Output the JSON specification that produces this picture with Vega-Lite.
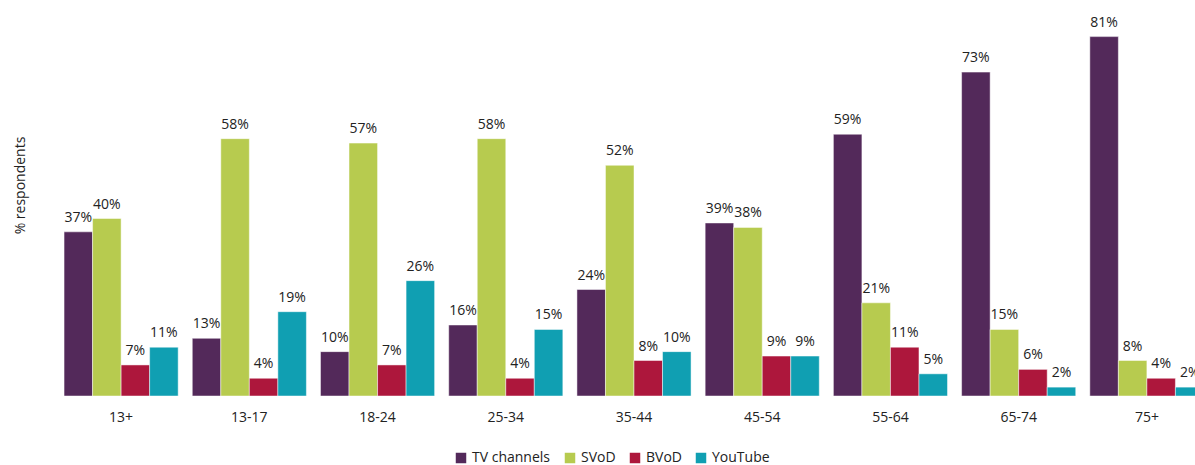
{
  "$schema": "https://vega.github.io/schema/vega-lite/v6.json",
  "autosize": "none",
  "width": 1154,
  "height": 386,
  "padding": {"left": 57, "top": 10, "right": 0, "bottom": 69},
  "background": "white",
  "config": {
    "view": {"stroke": null},
    "font": "Open Sans",
    "text": {"font": "Open Sans"}
  },
  "data": {
    "values": [
      {"age": "13+", "series": "TV channels", "value": 37},
      {"age": "13+", "series": "SVoD", "value": 40},
      {"age": "13+", "series": "BVoD", "value": 7},
      {"age": "13+", "series": "YouTube", "value": 11},
      {"age": "13-17", "series": "TV channels", "value": 13},
      {"age": "13-17", "series": "SVoD", "value": 58},
      {"age": "13-17", "series": "BVoD", "value": 4},
      {"age": "13-17", "series": "YouTube", "value": 19},
      {"age": "18-24", "series": "TV channels", "value": 10},
      {"age": "18-24", "series": "SVoD", "value": 57},
      {"age": "18-24", "series": "BVoD", "value": 7},
      {"age": "18-24", "series": "YouTube", "value": 26},
      {"age": "25-34", "series": "TV channels", "value": 16},
      {"age": "25-34", "series": "SVoD", "value": 58},
      {"age": "25-34", "series": "BVoD", "value": 4},
      {"age": "25-34", "series": "YouTube", "value": 15},
      {"age": "35-44", "series": "TV channels", "value": 24},
      {"age": "35-44", "series": "SVoD", "value": 52},
      {"age": "35-44", "series": "BVoD", "value": 8},
      {"age": "35-44", "series": "YouTube", "value": 10},
      {"age": "45-54", "series": "TV channels", "value": 39},
      {"age": "45-54", "series": "SVoD", "value": 38},
      {"age": "45-54", "series": "BVoD", "value": 9},
      {"age": "45-54", "series": "YouTube", "value": 9},
      {"age": "55-64", "series": "TV channels", "value": 59},
      {"age": "55-64", "series": "SVoD", "value": 21},
      {"age": "55-64", "series": "BVoD", "value": 11},
      {"age": "55-64", "series": "YouTube", "value": 5},
      {"age": "65-74", "series": "TV channels", "value": 73},
      {"age": "65-74", "series": "SVoD", "value": 15},
      {"age": "65-74", "series": "BVoD", "value": 6},
      {"age": "65-74", "series": "YouTube", "value": 2},
      {"age": "75+", "series": "TV channels", "value": 81},
      {"age": "75+", "series": "SVoD", "value": 8},
      {"age": "75+", "series": "BVoD", "value": 4},
      {"age": "75+", "series": "YouTube", "value": 2}
    ]
  },
  "transform": [
    {"calculate": "datum.value + '%'", "as": "label"}
  ],
  "encoding": {
    "x": {
      "field": "age",
      "type": "nominal",
      "sort": null,
      "scale": {"paddingInner": 0.11, "paddingOuter": 0.055},
      "axis": {
        "title": null,
        "labelAngle": 0,
        "labelFontSize": 14,
        "labelColor": "#222222",
        "labelPadding": 14,
        "ticks": false,
        "domain": false
      }
    },
    "xOffset": {
      "field": "series",
      "type": "nominal",
      "sort": ["TV channels", "SVoD", "BVoD", "YouTube"],
      "scale": {"paddingInner": 0, "paddingOuter": 0}
    },
    "y": {
      "field": "value",
      "type": "quantitative",
      "scale": {"domain": [0, 87], "nice": false},
      "axis": {
        "title": "% respondents",
        "titleFontSize": 14,
        "titleFontWeight": "normal",
        "titleColor": "#222222",
        "titleAngle": -90,
        "titleX": -37,
        "titleY": 175,
        "titleAlign": "center",
        "titleBaseline": "middle",
        "labels": false,
        "ticks": false,
        "domain": false,
        "grid": false
      }
    }
  },
  "layer": [
    {
      "mark": {"type": "bar", "stroke": "#ffffff", "strokeWidth": 0.8, "strokeOpacity": 0.6},
      "encoding": {
        "color": {
          "field": "series",
          "type": "nominal",
          "scale": {
            "domain": ["TV channels", "SVoD", "BVoD", "YouTube"],
            "range": ["#53295a", "#b7cb4f", "#ad173c", "#109fb2"]
          },
          "legend": {
            "title": null,
            "orient": "none",
            "direction": "horizontal",
            "legendX": 397,
            "legendY": 441,
            "symbolType": "square",
            "symbolSize": 110,
            "symbolStrokeWidth": 0,
            "labelFontSize": 14,
            "labelColor": "#222222",
            "labelOffset": 4,
            "columnPadding": 12
          }
        }
      }
    },
    {
      "mark": {"type": "text", "baseline": "alphabetic", "dy": -10, "fontSize": 14, "color": "#222222"},
      "encoding": {
        "text": {"field": "label", "type": "nominal"}
      }
    }
  ]
}
